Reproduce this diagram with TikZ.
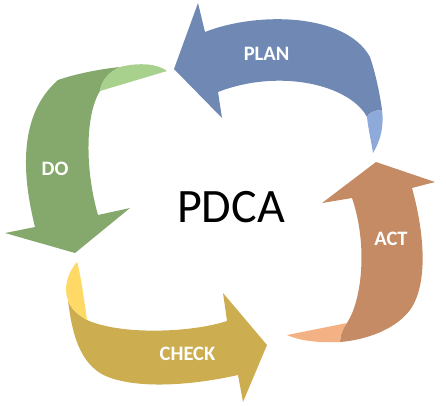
\documentclass[tikz,border=0pt]{standalone}
\usepackage{fontspec}
\setmainfont{Carlito}
\definecolor{plandark}{RGB}{112,137,180}
\definecolor{planlight}{RGB}{142,170,219}
\definecolor{dodark}{RGB}{133,168,108}
\definecolor{dolight}{RGB}{169,209,142}
\definecolor{checkdark}{RGB}{204,173,79}
\definecolor{checklight}{RGB}{255,217,102}
\definecolor{actdark}{RGB}{196,139,101}
\definecolor{actlight}{RGB}{244,177,131}
\tikzset{
  lbl/.style={text=white, font=\bfseries\fontsize{20.5}{22}\selectfont, inner sep=0pt},
  title/.style={text=black, font=\fontsize{48}{52}\selectfont, inner sep=0pt}
}
\begin{document}
\begin{tikzpicture}[x=1pt,y=-1pt]
\useasboundingbox (0,0) rectangle (446,405);
% PLAN
\fill[plandark] (174,69) -- (198,3) -- (205,32)
  .. controls (255,12) and (345,12) .. (370,57)
  .. controls (376,75) and (380,95) .. (382,110)
  .. controls (375,110) and (368,113) .. (367,117)
  .. controls (350,85) and (280,68) .. (218,92)
  -- (222,118) -- cycle;
\fill[planlight] (367,117) .. controls (368,113) and (375,110) .. (382,110)
  .. controls (384,125) and (381,140) .. (373,153)
  .. controls (371,140) and (368,128) .. (367,117) -- cycle;
% DO
\fill[dodark] (75,253) -- (5,233) -- (35,227)
  .. controls (22,175) and (18,115) .. (58,80)
  .. controls (75,74) and (100,69) .. (120,67)
  .. controls (108,72) and (101,82) .. (100,91)
  .. controls (85,115) and (85,170) .. (98,215)
  -- (130,208) -- cycle;
\fill[dolight] (100,91) .. controls (101,82) and (108,72) .. (120,67)
  .. controls (140,62) and (158,64) .. (167,71) -- cycle;
% CHECK
\fill[checkdark] (267,345) -- (223,293) -- (227,321)
  .. controls (190,333) and (120,335) .. (87,320)
  .. controls (78,315) and (70,308) .. (68,300)
  .. controls (72,335) and (80,360) .. (100,373)
  .. controls (125,388) and (180,388) .. (238,375)
  -- (243,402) -- cycle;
\fill[checklight] (68,300) .. controls (70,308) and (78,315) .. (87,320)
  .. controls (84,300) and (81,275) .. (77,262)
  .. controls (68,272) and (63,288) .. (68,300) -- cycle;
% ACT
\fill[actdark] (376,162) -- (435,182) -- (412,188)
  .. controls (425,235) and (428,285) .. (410,310)
  .. controls (395,330) and (365,340) .. (340,342)
  .. controls (340,335) and (343,328) .. (347,323)
  .. controls (362,300) and (368,245) .. (352,198)
  -- (322,203) -- cycle;
\fill[actlight] (347,323) .. controls (343,328) and (340,335) .. (340,342)
  .. controls (320,343) and (300,341) .. (287,335) -- cycle;
% labels
\node[lbl] (plan) at (266.5,53.5) {PLAN};
\node[lbl] (do) at (55,168.5) {DO};
\node[lbl] (check) at (187.5,353.5) {CHECK};
\node[lbl] (act) at (391,238.5) {ACT};
\node[title] (pdca) at (231,207) {PDCA};
\end{tikzpicture}
\end{document}
